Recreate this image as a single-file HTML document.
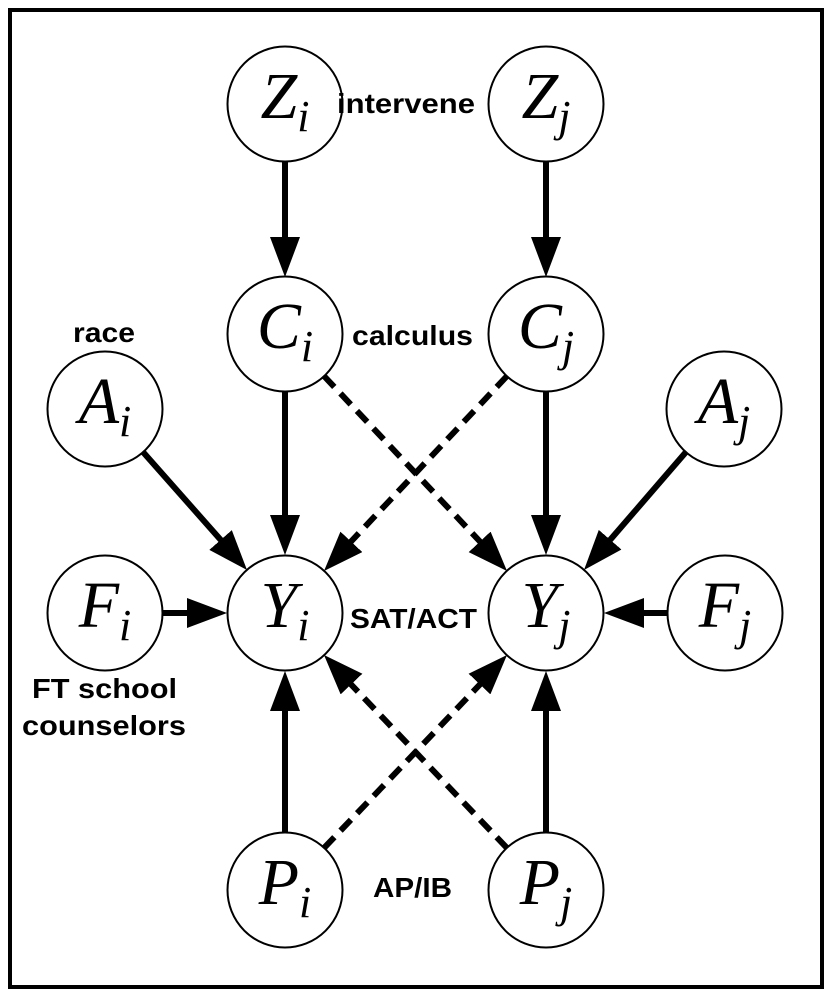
<!DOCTYPE html>
<html><head><meta charset="utf-8"><style>
html,body{margin:0;padding:0;background:#fff;}
svg{display:block;}
.m{font-family:"Liberation Serif",serif;font-style:italic;}
.l{font-family:"Liberation Sans",sans-serif;font-weight:bold;font-size:28px;}
</style></head><body>
<svg width="830" height="993" viewBox="0 0 830 993" xmlns="http://www.w3.org/2000/svg">
<defs>
<marker id="a" markerUnits="userSpaceOnUse" markerWidth="42" markerHeight="32" refX="40" refY="15" orient="auto">
<path d="M0,0 L40,15 L0,30 z" fill="#000"/>
</marker>
</defs>
<rect x="10" y="10" width="812" height="977" fill="none" stroke="#000" stroke-width="4"/>
<g stroke="#000" stroke-width="6" fill="none">
<line x1="285" y1="162" x2="285" y2="247" />
<line x1="546" y1="162" x2="546" y2="247" />
<line x1="285" y1="392" x2="285" y2="526" />
<line x1="546" y1="392" x2="546" y2="526" />
<line x1="143" y1="452" x2="227" y2="547" />
<line x1="686" y1="452" x2="604" y2="547" />
<line x1="163" y1="613" x2="198" y2="613" />
<line x1="667" y1="613" x2="633" y2="613" />
<line x1="285" y1="832" x2="285" y2="700" />
<line x1="546" y1="832" x2="546" y2="700" />
<g stroke-dasharray="15,9">
<line x1="324" y1="376" x2="487" y2="549" />
<line x1="507" y1="376" x2="344" y2="549" />
<line x1="324" y1="848" x2="487" y2="677" />
<line x1="507" y1="848" x2="344" y2="677" />
</g>
</g>
<g fill="#000">
<path d="M270,237 L300,237 L285,277 z"/>
<path d="M531,237 L561,237 L546,277 z"/>
<path d="M270,515 L300,515 L285,555 z"/>
<path d="M531,515 L561,515 L546,555 z"/>
</g>
<g fill="none" stroke="none">
<path d="M143,452 L247,570" marker-end="url(#a)"/>
<path d="M686,452 L584,570" marker-end="url(#a)"/>
<path d="M163,613 L227,613" marker-end="url(#a)"/>
<path d="M667,613 L604,613" marker-end="url(#a)"/>
<path d="M285,832 L285,671" marker-end="url(#a)"/>
<path d="M546,832 L546,671" marker-end="url(#a)"/>
<path d="M324,376 L507,571" marker-end="url(#a)"/>
<path d="M507,376 L324,571" marker-end="url(#a)"/>
<path d="M324,848 L507,655" marker-end="url(#a)"/>
<path d="M507,848 L324,655" marker-end="url(#a)"/>
</g>
<g fill="#fff" stroke="#000" stroke-width="2">
<circle cx="285" cy="104" r="57.5"/>
<circle cx="546" cy="104" r="57.5"/>
<circle cx="285" cy="334" r="57.5"/>
<circle cx="546" cy="334" r="57.5"/>
<circle cx="105" cy="409" r="57.5"/>
<circle cx="724" cy="409" r="57.5"/>
<circle cx="105" cy="613" r="57.5"/>
<circle cx="725" cy="613" r="57.5"/>
<circle cx="285" cy="613" r="57.5"/>
<circle cx="546" cy="613" r="57.5"/>
<circle cx="285" cy="890" r="57.5"/>
<circle cx="546" cy="890" r="57.5"/>
</g>
<g class="m" fill="#000" text-anchor="middle">
<text x="285" y="118" font-size="66">Z<tspan font-size="44" dy="13">i</tspan></text>
<text x="546" y="118" font-size="66">Z<tspan font-size="44" dy="13">j</tspan></text>
<text x="285" y="348" font-size="66">C<tspan font-size="44" dy="13">i</tspan></text>
<text x="546" y="348" font-size="66">C<tspan font-size="44" dy="13">j</tspan></text>
<text x="105" y="423" font-size="66">A<tspan font-size="44" dy="13">i</tspan></text>
<text x="724" y="423" font-size="66">A<tspan font-size="44" dy="13">j</tspan></text>
<text x="105" y="627" font-size="66">F<tspan font-size="44" dy="13">i</tspan></text>
<text x="725" y="627" font-size="66">F<tspan font-size="44" dy="13">j</tspan></text>
<text x="285" y="627" font-size="66">Y<tspan font-size="44" dy="13">i</tspan></text>
<text x="546" y="627" font-size="66">Y<tspan font-size="44" dy="13">j</tspan></text>
<text x="285" y="904" font-size="66">P<tspan font-size="44" dy="13">i</tspan></text>
<text x="546" y="904" font-size="66">P<tspan font-size="44" dy="13">j</tspan></text>
</g>
<g class="l" fill="#000">
<text x="337" y="113" textLength="138" lengthAdjust="spacingAndGlyphs">intervene</text>
<text x="352" y="345" textLength="121" lengthAdjust="spacingAndGlyphs">calculus</text>
<text x="73" y="342" textLength="62" lengthAdjust="spacingAndGlyphs">race</text>
<text x="350" y="628" textLength="127" lengthAdjust="spacingAndGlyphs">SAT/ACT</text>
<text x="32" y="698" textLength="145" lengthAdjust="spacingAndGlyphs">FT school</text>
<text x="22" y="735" textLength="164" lengthAdjust="spacingAndGlyphs">counselors</text>
<text x="373" y="897" textLength="79" lengthAdjust="spacingAndGlyphs">AP/IB</text>
</g>
</svg>
</body></html>
